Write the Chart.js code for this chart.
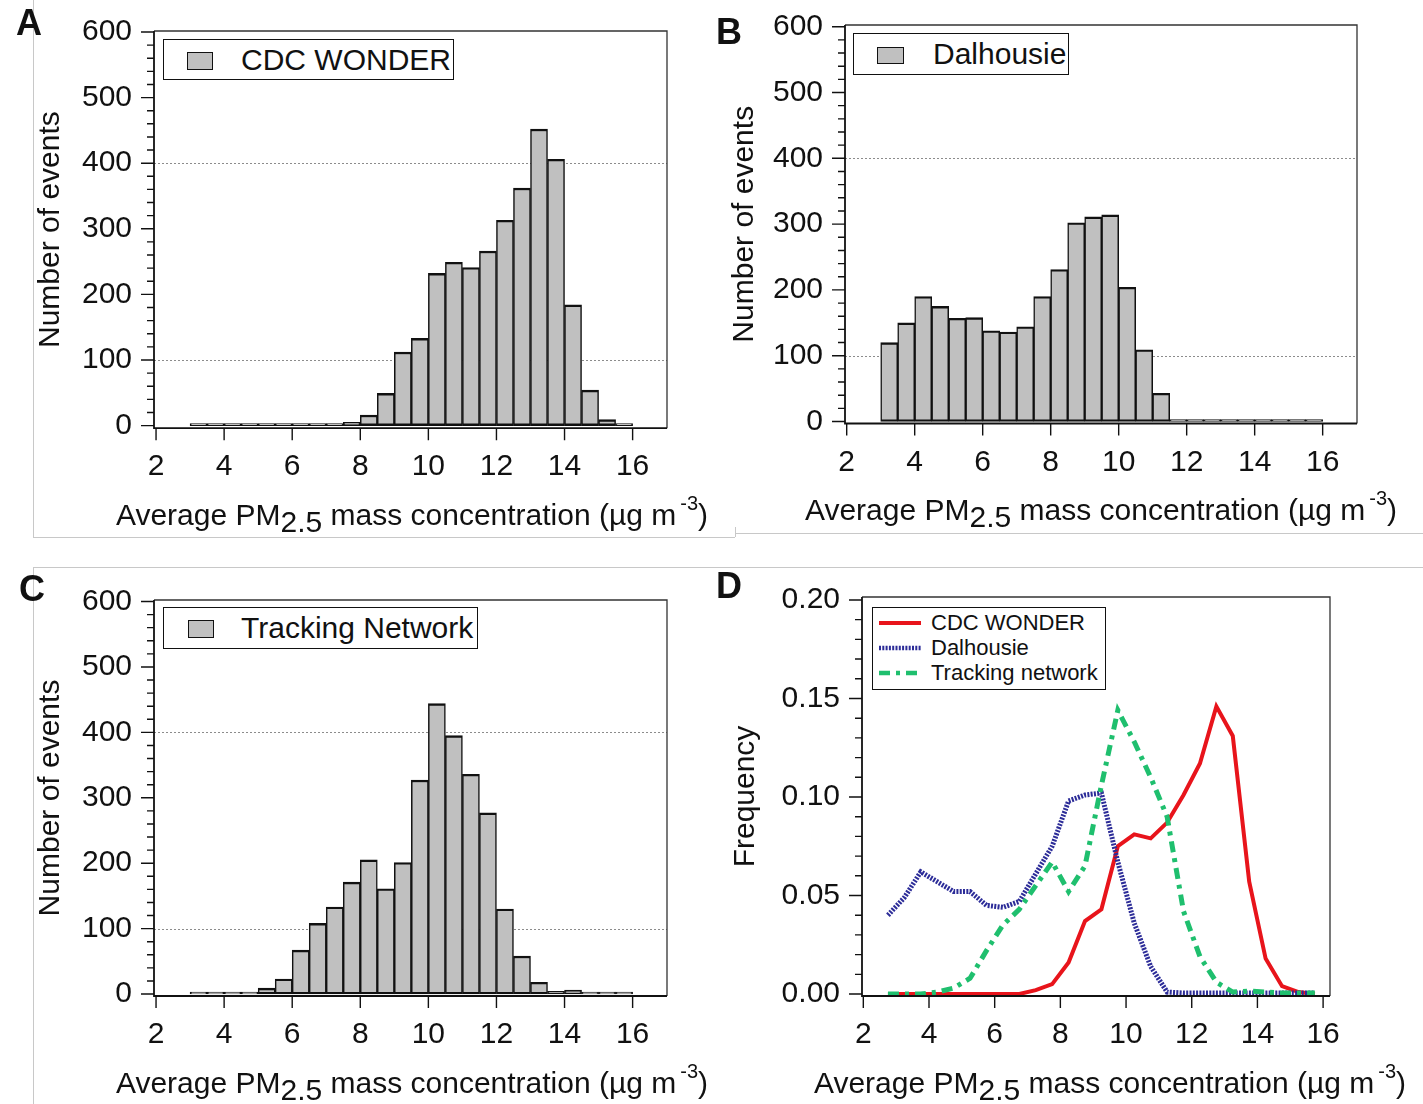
<!DOCTYPE html>
<html><head><meta charset="utf-8">
<script src="https://cdn.jsdelivr.net/npm/chart.js@4/dist/chart.umd.min.js"></script>
<style>
body{margin:0;background:#fff;width:1423px;height:1104px;position:relative;overflow:hidden;font-family:"Liberation Sans",Arial,sans-serif;color:#111}
canvas{position:absolute}
.fr{position:absolute;background:#c8c8c8}
.letter{position:absolute;font-weight:bold;font-size:36px;line-height:36px;z-index:3}
.leg{position:absolute;border:1.6px solid #111;background:#fff;box-sizing:border-box;z-index:3}
.sw{position:absolute;background:#c0c0c0;border:1.6px solid #111;box-sizing:border-box;z-index:4}
.lt{position:absolute;white-space:nowrap;font-size:30px;line-height:30px;z-index:4}
.dl{position:absolute;white-space:nowrap;font-size:22px;line-height:22px;z-index:4}
.xt{position:absolute;width:800px;text-align:center;white-space:nowrap;font-size:30px;line-height:30px;z-index:3}
.sub{position:relative;top:7px}
.sup{position:relative;top:-15px;font-size:20px;margin-left:4px}
svg{position:absolute;z-index:4}
</style></head>
<body>
<div class="fr" style="left:33px;top:0;width:1px;height:537px"></div>
<div class="fr" style="left:33px;top:537px;width:702px;height:1px"></div>
<div class="fr" style="left:735px;top:527px;width:1px;height:10px"></div>
<div class="fr" style="left:735px;top:533px;width:688px;height:1px"></div>
<div class="fr" style="left:33px;top:567px;width:1390px;height:1px"></div>
<div class="fr" style="left:33px;top:567px;width:1px;height:537px"></div>

<canvas id="cA"></canvas>
<canvas id="cB"></canvas>
<canvas id="cC"></canvas>
<canvas id="cD"></canvas>

<div class="letter" style="left:16px;top:5px">A</div>
<div class="letter" style="left:716px;top:14px">B</div>
<div class="letter" style="left:19px;top:571px">C</div>
<div class="letter" style="left:716px;top:568px">D</div>

<div class="leg" style="left:163px;top:39px;width:291px;height:41px"></div>
<div class="sw" style="left:187px;top:52px;width:26px;height:18px"></div>
<div class="lt" style="left:241px;top:45px">CDC WONDER</div>

<div class="leg" style="left:853px;top:33px;width:216px;height:42px"></div>
<div class="sw" style="left:877px;top:47px;width:27px;height:17px"></div>
<div class="lt" style="left:933px;top:39px">Dalhousie</div>

<div class="leg" style="left:163px;top:607px;width:315px;height:42px"></div>
<div class="sw" style="left:188px;top:620px;width:26px;height:18px"></div>
<div class="lt" style="left:241px;top:613px">Tracking Network</div>

<div class="leg" style="left:872px;top:607px;width:234px;height:83px"></div>
<svg style="left:872px;top:607px" width="234" height="83">
  <line x1="7" y1="16" x2="49" y2="16" stroke="#e8141b" stroke-width="4"/>
  <line x1="7" y1="41" x2="49" y2="41" stroke="#2c2c98" stroke-width="4.5" stroke-dasharray="2 1.3"/>
  <line x1="7" y1="66" x2="49" y2="66" stroke="#1fbf6e" stroke-width="4.5" stroke-dasharray="11 6 4 6"/>
</svg>
<div class="dl" style="left:931px;top:612px">CDC WONDER</div>
<div class="dl" style="left:931px;top:637px">Dalhousie</div>
<div class="dl" style="left:931px;top:662px">Tracking network</div>

<div class="xt" style="left:12px;top:500px">Average PM<span class="sub">2.5</span> mass concentration (µg m<span class="sup">-3</span>)</div>
<div class="xt" style="left:701px;top:495px">Average PM<span class="sub">2.5</span> mass concentration (µg m<span class="sup">-3</span>)</div>
<div class="xt" style="left:12px;top:1068px">Average PM<span class="sub">2.5</span> mass concentration (µg m<span class="sup">-3</span>)</div>
<div class="xt" style="left:710px;top:1068px">Average PM<span class="sub">2.5</span> mass concentration (µg m<span class="sup">-3</span>)</div>

<script>
// ---------- data ----------
const binCenters = [3.25,3.75,4.25,4.75,5.25,5.75,6.25,6.75,7.25,7.75,8.25,8.75,9.25,9.75,10.25,10.75,11.25,11.75,12.25,12.75,13.25,13.75,14.25,14.75,15.25,15.75];
const cdcCounts   = [3,3,3,3,3,3,3,3,3,5,16,49,112,133,232,249,241,266,313,362,452,406,184,54,9,3];
const dalCounts   = [120,150,190,175,157,158,138,136,144,190,231,302,311,314,204,109,43,3,3,3,3,3,3,3,3,3];
const trackCounts = [3,3,3,3,9,23,67,108,133,171,205,161,201,327,444,395,336,277,130,58,18,4,6,3,3,3];

const freqX = [2.75,3.25,3.75,4.25,4.75,5.25,5.75,6.25,6.75,7.25,7.75,8.25,8.75,9.25,9.75,10.25,10.75,11.25,11.75,12.25,12.75,13.25,13.75,14.25,14.75,15.25,15.75];
const cdcFreq   = [0,0,0,0,0,0,0,0,0,0.002,0.005,0.016,0.037,0.043,0.075,0.081,0.079,0.087,0.101,0.117,0.146,0.131,0.057,0.018,0.004,0.001,0];
const dalFreq   = [0.040,0.049,0.062,0.057,0.052,0.052,0.045,0.044,0.047,0.061,0.075,0.098,0.101,0.102,0.067,0.036,0.014,0.001,0.0005,0.0005,0.0005,0.0005,0.0005,0.0005,0.0005,0.0005,0.0005];
const trackFreq = [0,0,0,0.001,0.003,0.008,0.022,0.035,0.043,0.055,0.067,0.052,0.065,0.106,0.144,0.128,0.110,0.090,0.042,0.019,0.006,0.001,0.0015,0.001,0.0005,0.0005,0.0005];

const xTicks = [2,4,6,8,10,12,14,16];
const countTicks = [0,100,200,300,400,500,600];
const freqTicks = [0,0.05,0.10,0.15,0.20];
const countGrid = [100,400];
const histLabels = ['CDC WONDER','Dalhousie','Tracking Network'];
const freqLabels = ['CDC WONDER','Dalhousie','Tracking network'];

const countMinor = []; for (let v = 0; v <= 600; v += 20) countMinor.push(v);
const freqMinor = []; for (let i = 0; i <= 20; i++) freqMinor.push(i / 100);

// ---------- drawing ----------
const FAM = '"Liberation Sans", Arial, sans-serif';
const FS = 30;
const framePlugin = {
  id: 'frameTicks',
  beforeDatasetsDraw(chart, args, o) {
    const {ctx, chartArea: a, scales: {y}} = chart;
    ctx.save();
    ctx.strokeStyle = '#8c8c8c'; ctx.lineWidth = 1; ctx.setLineDash([2, 2]);
    (o.grid || []).forEach(v => {
      const p = Math.round(y.getPixelForValue(v)) + 0.5;
      ctx.beginPath(); ctx.moveTo(a.left, p); ctx.lineTo(a.right, p); ctx.stroke();
    });
    ctx.restore();
  },
  afterDraw(chart, args, o) {
    const {ctx, chartArea: a, scales: {x, y}} = chart;
    ctx.save();
    ctx.strokeStyle = '#333'; ctx.lineWidth = 1.3;
    ctx.beginPath();
    ctx.moveTo(a.left, a.top); ctx.lineTo(a.right, a.top); ctx.lineTo(a.right, a.bottom);
    ctx.stroke();
    ctx.strokeStyle = '#111'; ctx.lineWidth = 1.8;
    ctx.beginPath();
    ctx.moveTo(a.left, a.top); ctx.lineTo(a.left, a.bottom); ctx.lineTo(a.right, a.bottom);
    ctx.stroke();
    ctx.lineWidth = 1.4;
    ctx.beginPath();
    (o.yMinor || []).forEach(v => { const p = y.getPixelForValue(v); ctx.moveTo(a.left - 7, p); ctx.lineTo(a.left, p); });
    (o.yMajor || []).forEach(v => { const p = y.getPixelForValue(v); ctx.moveTo(a.left - 13, p); ctx.lineTo(a.left, p); });
    (o.xMajor || []).forEach(v => { const p = x.getPixelForValue(v); ctx.moveTo(p, a.bottom); ctx.lineTo(p, a.bottom + 12); });
    ctx.stroke();
    ctx.restore();
  }
};

function makeChart(id, box, area, cfg) {
  const cv = document.getElementById(id);
  cv.width = box.w; cv.height = box.h;
  cv.style.left = box.left + 'px'; cv.style.top = box.top + 'px';
  cv.style.width = box.w + 'px'; cv.style.height = box.h + 'px';
  const yW = area.l - box.left, xH = box.top + box.h - area.b;
  return new Chart(cv, {
    type: cfg.type,
    data: {datasets: cfg.datasets},
    options: {
      responsive: false, animation: false, devicePixelRatio: 1,
      layout: {padding: {top: area.t - box.top, right: box.left + box.w - area.r, bottom: 0, left: 0}},
      plugins: {
        legend: {display: false}, tooltip: {enabled: false},
        frameTicks: {grid: cfg.grid, yMajor: cfg.yTicks, yMinor: cfg.yMinor, xMajor: xTicks}
      },
      scales: {
        x: {
          type: 'linear', min: cfg.xMin, max: cfg.xMax, offset: false,
          grid: {display: false, drawTicks: false}, border: {display: false},
          afterBuildTicks: s => { s.ticks = xTicks.map(v => ({value: v})); },
          afterFit: s => { s.height = xH; s.paddingLeft = 0; s.paddingRight = 0; },
          ticks: {autoSkip: false, maxRotation: 0, padding: 21, color: '#111', font: {family: FAM, size: FS},
                  callback: v => String(v)}
        },
        y: {
          type: 'linear', min: cfg.yMin, max: cfg.yMax,
          grid: {display: false, drawTicks: false}, border: {display: false},
          afterBuildTicks: s => { s.ticks = cfg.yTicks.map(v => ({value: v})); },
          afterFit: s => { s.width = yW; s.paddingTop = 0; s.paddingBottom = 0; },
          ticks: {padding: 22, color: '#111', font: {family: FAM, size: FS}, callback: cfg.fmt},
          title: {display: true, text: cfg.yTitle, color: '#111', font: {family: FAM, size: FS},
                  padding: {top: cfg.titlePad, bottom: 0}}
        }
      }
    },
    plugins: [framePlugin]
  });
}

function histDataset(label, counts) {
  return {
    label: label,
    data: binCenters.map((c, i) => ({x: c, y: counts[i]})),
    backgroundColor: '#c0c0c0', borderColor: '#111',
    borderWidth: {left: 1.5, right: 1.5, top: 2.4, bottom: 2.4}, borderSkipped: false,
    barPercentage: 1, categoryPercentage: 1
  };
}
const countFmt = v => String(v);

makeChart('cA', {left: 0, top: 0, w: 720, h: 545}, {l: 154, t: 31, r: 667, b: 428.2},
  {type: 'bar', datasets: [histDataset(histLabels[0], cdcCounts)], xMin: 1.94, xMax: 17.01,
   yMin: -4, yMax: 601.5, yTicks: countTicks, yMinor: countMinor, grid: countGrid, fmt: countFmt,
   yTitle: 'Number of events', titlePad: 33});

makeChart('cB', {left: 700, top: 0, w: 723, h: 545}, {l: 845, t: 25, r: 1357, b: 423.5},
  {type: 'bar', datasets: [histDataset(histLabels[1], dalCounts)], xMin: 1.95, xMax: 17.01,
   yMin: -3, yMax: 602.6, yTicks: countTicks, yMinor: countMinor, grid: countGrid, fmt: countFmt,
   yTitle: 'Number of events', titlePad: 27});

makeChart('cC', {left: 0, top: 565, w: 720, h: 539}, {l: 154, t: 600, r: 667, b: 996},
  {type: 'bar', datasets: [histDataset(histLabels[2], trackCounts)], xMin: 1.94, xMax: 17.01,
   yMin: -3, yMax: 602.3, yTicks: countTicks, yMinor: countMinor, grid: countGrid, fmt: countFmt,
   yTitle: 'Number of events', titlePad: 33});

function lineDataset(label, ys, color, width, dash, order) {
  return {
    label: label, data: freqX.map((x, i) => ({x: x, y: ys[i]})),
    borderColor: color, backgroundColor: color, borderWidth: width, borderDash: dash,
    borderCapStyle: 'butt', pointRadius: 0, tension: 0, fill: false, order: order
  };
}
makeChart('cD', {left: 700, top: 565, w: 723, h: 539}, {l: 862, t: 597, r: 1330, b: 996},
  {type: 'line', datasets: [
     lineDataset(freqLabels[0], cdcFreq, '#e8141b', 4, [], 2),
     lineDataset(freqLabels[1], dalFreq, '#2c2c98', 5, [2, 1.3], 1),
     lineDataset(freqLabels[2], trackFreq, '#1fbf6e', 5, [11, 6, 4, 6], 0)],
   xMin: 1.96, xMax: 16.21, yMin: -0.001, yMax: 0.2015, yTicks: freqTicks, yMinor: freqMinor, grid: [],
   fmt: v => v.toFixed(2), yTitle: 'Frequency', titlePad: 28});
</script>
</body></html>
